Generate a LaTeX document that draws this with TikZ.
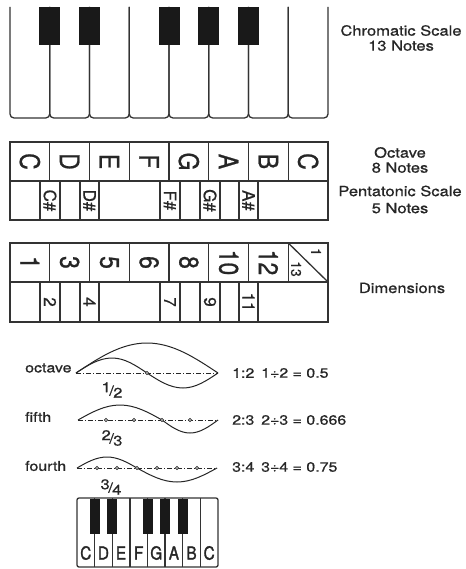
\documentclass[tikz,border=0pt]{standalone}
\usepackage{fontspec}
\setmainfont{TeX Gyre Heros}[FakeBold=0.6]
\newfontfamily\wideheros[FakeStretch=1.18, FakeBold=0.8]{TeX Gyre Heros}
\newfontfamily\narrowheros[FakeStretch=0.85, FakeBold=0.8]{TeX Gyre Heros}
\newfontfamily\keyheros[FakeStretch=0.85, FakeBold=1.6]{TeX Gyre Heros}

\tikzset{
  keyline/.style={draw=black!80, line width=1.3pt},
  blackkey/.style={fill=black!90},
  bigsign/.style={font=\narrowheros\fontsize{27}{27}\selectfont, rotate=-90, inner sep=0pt, text=black!85},
  smallsign/.style={font=\fontsize{17}{17}\selectfont, rotate=-90, inner sep=0pt, text=black!85},
  tinysign/.style={font=\fontsize{14}{14}\selectfont, rotate=-90, inner sep=0pt, text=black!85},
  keysign/.style={font=\keyheros\fontsize{18}{18}\selectfont, inner sep=0pt, text=black!85},
  caption/.style={font=\wideheros\fontsize{14}{15}\selectfont, align=center, text=black!85},
  wavename/.style={font=\wideheros\fontsize{13.5}{13.5}\selectfont, anchor=west, inner sep=0pt, text=black!85},
  ratio/.style={font=\wideheros\fontsize{13.5}{13.5}\selectfont, anchor=west, inner sep=0pt, text=black!85},
  fracsign/.style={font=\wideheros\fontsize{14}{14}\selectfont, inner sep=0pt, text=black!85},
  string/.style={draw=black!85, line width=1pt},
  rest/.style={draw=black!85, line width=0.7pt, dash pattern=on 5pt off 2pt on 1pt off 2pt},
  nodedot/.style={circle, draw=black!85, fill=white, inner sep=0pt, minimum size=3.2pt, line width=0.6pt},
}

\begin{document}
\begin{tikzpicture}[x=1pt, y=-1pt]
\useasboundingbox (0,0) rectangle (465,569);

% chromatic keyboard
\foreach \k in {0,...,7}
  \draw[keyline, rounded corners=4pt] ({10+39.75*\k},7) -- ({10+39.75*\k},118) -- ({49.75+39.75*\k},118) -- ({49.75+39.75*\k},7);
\foreach \c in {1,2,4,5,6}
  \fill[blackkey] ({10+39.75*\c-10.5},7) rectangle +(21,38);
\node[caption] (chromatic) at (401,38) {Chromatic Scale\\13 Notes};

% octave and pentatonic
\draw[keyline] (10,142) rectangle (328,220);
\draw[keyline] (10,181) -- (328,181);
\foreach \k in {1,...,7}
  \draw[keyline] ({10+39.75*\k},142) -- ++(0,39);
\foreach \x in {40,60,80,99,160,180,200,220,239,258}
  \draw[keyline] (\x,181) -- (\x,220);
\foreach \n [count=\k from 0] in {C,D,E,F,G,A,B,C}
  \node[bigsign] (oct-\k) at ({29.875+39.75*\k},161.5) {\n};
\foreach \n/\x [count=\k] in {C/50, D/89.5, F/170, G/210, A/248.5}
  \node[smallsign] (sharp-\k) at (\x,200.5) {\n\#};
\node[caption] (octave) at (400,160) {Octave\\8 Notes};
\node[caption] (penta) at (400,199.5) {Pentatonic Scale\\[2pt]5 Notes};

% dimensions
\draw[keyline] (10,243) rectangle (328,322);
\draw[keyline] (10,282) -- (328,282);
\foreach \k in {1,...,7}
  \draw[keyline] ({10+39.75*\k},243) -- ++(0,39);
\draw[keyline] (288.25,243) -- (328,282);
\foreach \x in {40,60,80,99,160,180,200,220,239,258}
  \draw[keyline] (\x,282) -- (\x,322);
\foreach \n [count=\k from 0] in {1,3,5,6,8,10,12}
  \node[bigsign] (dim-\k) at ({29.875+39.75*\k},262.5) {\n};
\node[tinysign] (dim-top) at (316,252) {1};
\node[tinysign] (dim-low) at (296,269) {13};
\foreach \n/\x [count=\k] in {2/50, 4/89.5, 7/170, 9/210, 11/248.5}
  \node[smallsign] (half-\k) at (\x,302) {\n};
\node[caption] (dims) at (402,288) {Dimensions};

% octave string
\coordinate (oct-l) at (76,373);
\coordinate (oct-r) at (218,373);
\draw[rest] (oct-l) -- (oct-r);
\draw[string] (oct-l) sin (147,343) cos (oct-r);
\draw[string] (oct-l) sin (112,358) cos (147,373) sin (183,388) cos (oct-r);
\node[nodedot] (oct-dot) at (147,373) {};
\node[wavename] (oct-name) at (25,368) {octave};
\node[fracsign] (oct-frac) at (112,390) {\raisebox{.45ex}{1}\kern-.1em/\kern-.05em\raisebox{-.3ex}{2}};
\node[ratio] (oct-ratio) at (232,373) {1:2};
\node[ratio] (oct-value) at (261,373) {1÷2 = 0.5};

% fifth string
\coordinate (fif-l) at (78,420);
\coordinate (fif-r) at (218,420);
\draw[rest] (fif-l) -- (fif-r);
\draw[string] (fif-l) sin (120,405) cos (162,420) sin (190,433) cos (fif-r);
\foreach \k in {1,...,4}
  \node[nodedot] (fif-dot-\k) at ({78+28*\k},420) {};
\node[wavename] (fif-name) at (25,417) {fifth};
\node[fracsign] (fif-frac) at (112,438) {\raisebox{.45ex}{2}\kern-.1em/\kern-.05em\raisebox{-.3ex}{3}};
\node[ratio] (fif-ratio) at (232,420) {2:3};
\node[ratio] (fif-value) at (261,420) {2÷3 = 0.666};

% fourth string
\coordinate (fou-l) at (77,468);
\coordinate (fou-r) at (217,468);
\draw[rest] (fou-l) -- (fou-r);
\draw[string] (fou-l) sin (107,457) cos (137,468) sin (177,482) cos (fou-r);
\foreach \k in {1,...,6}
  \node[nodedot] (fou-dot-\k) at ({77+20*\k},468) {};
\node[wavename] (fou-name) at (25,466) {fourth};
\node[fracsign] (fou-frac) at (111,487) {\raisebox{.45ex}{3}\kern-.1em/\kern-.05em\raisebox{-.3ex}{4}};
\node[ratio] (fou-ratio) at (232,467) {3:4};
\node[ratio] (fou-value) at (261,467) {3÷4 = 0.75};

% small keyboard
\draw[keyline, rounded corners=2pt] (77,498) rectangle (218,567);
\foreach \k in {1,...,7}
  \draw[keyline] ({77+17.625*\k},498) -- ++(0,69);
\foreach \c in {1,2,4,5,6}
  \fill[blackkey] ({77+17.625*\c-5},499) rectangle +(10,35);
\foreach \n [count=\k from 0] in {C,D,E,F,G,A,B,C}
  \node[keysign] (key-\k) at ({85.8+17.625*\k},553) {\n};
\end{tikzpicture}
\end{document}
